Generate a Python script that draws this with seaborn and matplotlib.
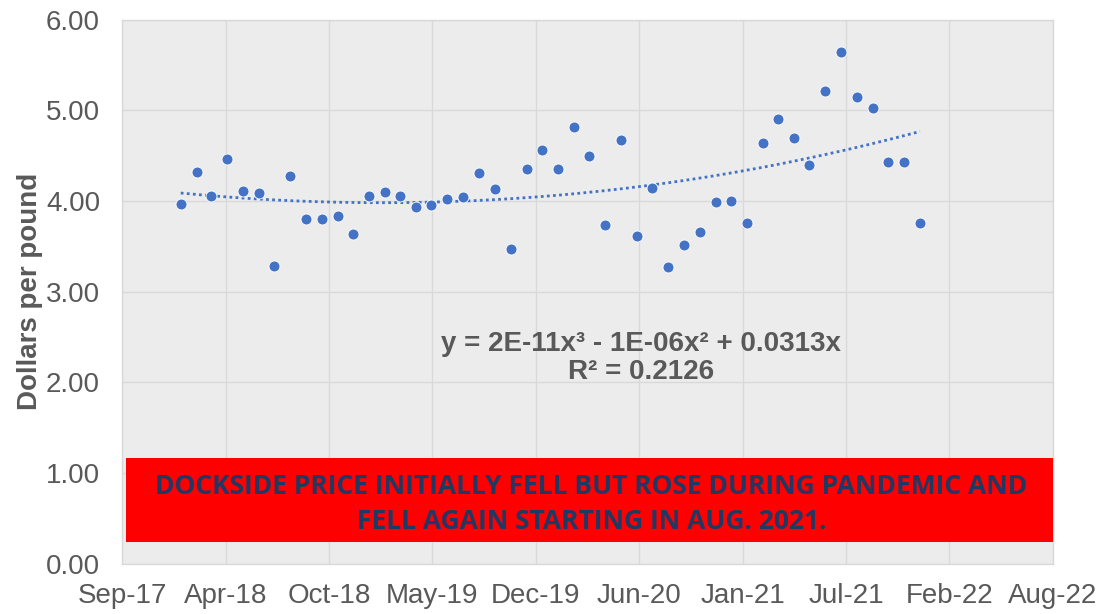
#
# Dockside price per pound, monthly, with a cubic trendline
#

import numpy as np
import pandas as pd
import matplotlib
matplotlib.use("Agg")
import matplotlib.pyplot as plt
import matplotlib.dates as mdates
from matplotlib.patches import Rectangle
import seaborn as sns

# monthly observations, Jan 2018 .. Dec 2021
months = pd.date_range("2018-01-01", "2021-12-01", freq="MS") + pd.Timedelta(days=14)
prices = [
    3.96, 4.32, 4.05, 4.46, 4.11, 4.09, 3.28, 4.27, 3.80, 3.80, 3.83, 3.63,
    4.05, 4.10, 4.05, 3.93, 3.95, 4.02, 4.04, 4.31, 4.13, 3.47, 4.35, 4.56,
    4.35, 4.82, 4.50, 3.73, 4.67, 3.61, 4.14, 3.27, 3.51, 3.66, 3.99, 4.00,
    3.76, 4.64, 4.90, 4.69, 4.39, 5.21, 5.64, 5.15, 5.02, 4.43, 4.43, 3.76,
]
equation_text = "y = 2E-11x³ - 1E-06x² + 0.0313x\nR² = 0.2126"
note_lines = [
    "DOCKSIDE PRICE INITIALLY FELL BUT ROSE DURING PANDEMIC AND",
    "FELL AGAIN STARTING IN AUG. 2021.",
]
axis_start = pd.Timestamp("2017-09-24")
tick_step_days = 200
n_ticks = 10

df = pd.DataFrame({"date": months, "price": prices})

# cubic trendline like the spreadsheet one: x = date serial, intercept fixed at 0
serial = (df["date"] - pd.Timestamp("1899-12-30")).dt.days.to_numpy() / 1e4
X = np.column_stack([serial ** 3, serial ** 2, serial])
coefs, *_ = np.linalg.lstsq(X, df["price"].to_numpy(), rcond=None)
fine = np.linspace(serial[0], serial[-1], 300)
trend = pd.DataFrame({
    "date": pd.Timestamp("1899-12-30") + pd.to_timedelta(fine * 1e4, unit="D"),
    "price": np.column_stack([fine ** 3, fine ** 2, fine]) @ coefs,
})

sns.set_style("whitegrid", {
    "axes.facecolor": "#ECECEC",
    "grid.color": "#D9D9D9",
    "axes.edgecolor": "#D9D9D9",
})
plt.rcParams["font.family"] = ["Liberation Sans", "DejaVu Sans"]

blue = "#4472C4"
gray = "#595959"

fig = plt.figure(figsize=(11.07, 6.14), dpi=100)
ax = fig.add_axes([0.1105, 0.0822, 0.8405, 0.886])

sns.lineplot(data=trend, x="date", y="price", ax=ax, color=blue,
             linewidth=2.0, linestyle=(0, (1, 1.2)))
sns.scatterplot(data=df, x="date", y="price", ax=ax, color=blue, s=62,
                edgecolor="white", linewidth=0.6, zorder=3)

x0 = mdates.date2num(axis_start)
ax.set_xlim(x0, x0 + tick_step_days * (n_ticks - 1))
ax.set_xticks(x0 + tick_step_days * np.arange(n_ticks))
ax.xaxis.set_major_formatter(mdates.DateFormatter("%b-%y"))
ax.set_ylim(0, 6)
ax.set_yticks(np.arange(0, 7))
ax.yaxis.set_major_formatter(matplotlib.ticker.FormatStrFormatter("%.2f"))
ax.tick_params(axis="x", labelsize=20, colors=gray, length=0, pad=14)
ax.tick_params(axis="y", labelsize=20, colors=gray, length=0, pad=16)
ax.grid(True, linewidth=1.0)
for s in ax.spines.values():
    s.set_linewidth(1.0)

ax.set_xlabel("")
ax.set_ylabel("Dollars per pound", fontsize=20, fontweight="bold", color=gray, labelpad=2)

ax.text(0.557, 0.378, equation_text, transform=ax.transAxes, ha="center", va="center",
        fontsize=20, fontweight="bold", color=gray, linespacing=1.1)

ax.add_patch(Rectangle((0.004, 0.0395), 0.996, 0.1545, transform=ax.transAxes,
                       facecolor="#FF0000", edgecolor="none", zorder=4, clip_on=False))
ax.text(0.504, 0.109, "\n".join(note_lines), transform=ax.transAxes, ha="center", va="center",
        fontsize=19, fontweight="bold", color="#1F3864", family=["Open Sans", "DejaVu Sans"],
        zorder=5, linespacing=1.4)

fig.savefig("out.png", dpi=100)
